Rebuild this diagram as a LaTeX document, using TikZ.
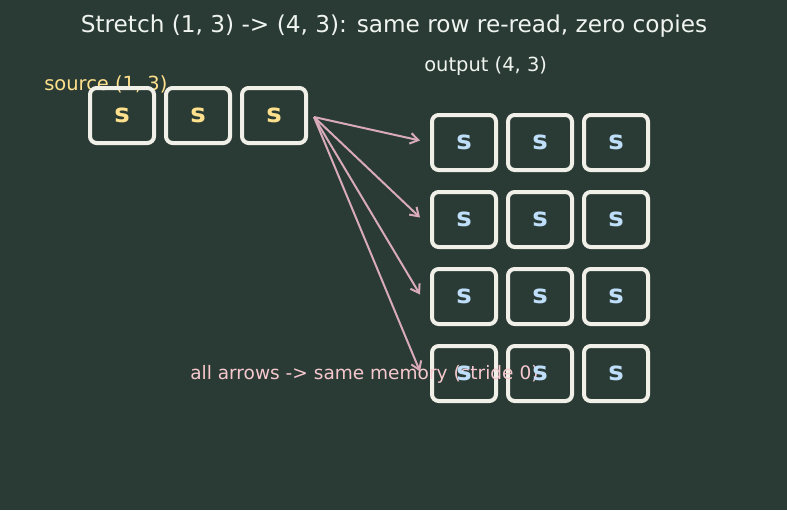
\documentclass[tikz,border=0pt]{standalone}
\usepackage{fontspec}
\setmainfont{DejaVu Sans}
\usetikzlibrary{arrows.meta,calc}
\definecolor{bgc}{RGB}{42,59,53}
\definecolor{boxc}{RGB}{240,240,232}
\definecolor{srcc}{RGB}{255,224,140}
\definecolor{outc}{RGB}{190,222,250}
\definecolor{arrc}{RGB}{216,170,186}
\definecolor{capc}{RGB}{246,200,206}
\definecolor{titc}{RGB}{240,244,240}
\begin{document}
\begin{tikzpicture}[x=0.75pt,y=-0.75pt,
  cell/.style={draw=boxc,line width=3pt,rounded corners=5pt,minimum width=64*0.75pt,minimum height=55*0.75pt,inner sep=0pt},
  srccell/.style={cell,text=srcc,font=\fontsize{19.5}{22}\selectfont\bfseries},
  outcell/.style={cell},
  outtxt/.style={text=outc,font=\fontsize{19.5}{22}\selectfont\bfseries},
  conn/.style={draw=arrc,line width=1.5pt,-{Straight Barb[length=6pt,width=8pt,line width=1.5pt]}}]
\fill[bgc] (0,0) rectangle (787,510);
\useasboundingbox (0,0) rectangle (787,510);
\node[text=titc,font=\fontsize{17.4}{20}\selectfont] (title) at (394,26) {Stretch (1, 3) -> (4, 3): same row re-read, zero copies};
\node[text=srcc,font=\fontsize{14.6}{17}\selectfont,anchor=west,inner sep=0pt] (srclab) at (44,84) {source (1, 3)};
\node[text=titc,font=\fontsize{14.6}{17}\selectfont,anchor=west,inner sep=0pt] (outlab) at (424,66) {output (4, 3)};
\foreach \i/\x in {1/122,2/198,3/274}{
  \node[srccell] (s\i) at (\x,115.5) {s};
}
\foreach \r/\y in {1/142.5,2/219.5,3/296.5,4/373.5}{
  \foreach \c/\x in {1/464,2/540,3/616}{
    \node[outcell] (o\r\c) at (\x,\y) {};
  }
}
\node[text=capc,font=\fontsize{13.9}{16}\selectfont,anchor=west,inner sep=0pt] (cap) at (190,374) {all arrows -> same memory (stride 0)};
\foreach \r/\y in {1/142.5,2/219.5,3/296.5,4/373.5}{
  \foreach \c/\x in {1/464,2/540,3/616}{
    \node[outtxt] (ol\r\c) at (\x,\y) {s};
  }
}
\foreach \r in {1,2,3,4}{
  \draw[conn] ($(s3.east)+(6,1.5)$) -- ($(o\r1.west)+(-10,-2)$);
}
\end{tikzpicture}
\end{document}
